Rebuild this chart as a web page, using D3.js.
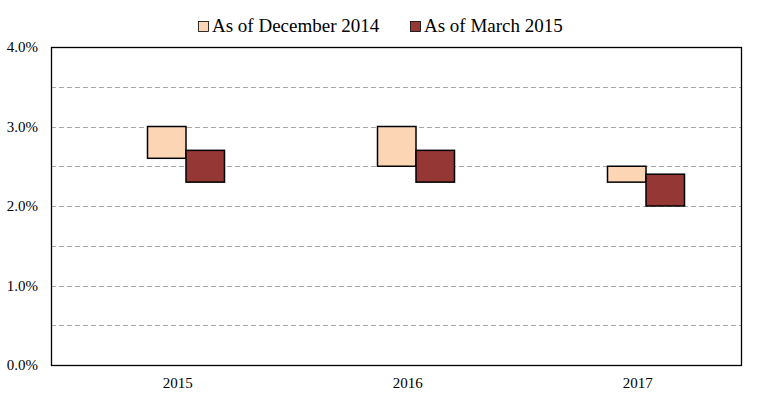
<!DOCTYPE html>
<html>
<head>
<meta charset="utf-8">
<script src="https://cdn.jsdelivr.net/npm/d3@7"></script>
<style>
  body { margin: 0; background: #fff; }
  text { font-family: "Liberation Serif", "Times New Roman", serif; fill: #000; }
</style>
</head>
<body>
<svg id="chart" width="757" height="398"></svg>
<script>
// data (forecast ranges, %)
var years = ["2015", "2016", "2017"];
var seriesNames = ["As of December 2014", "As of March 2015"];
var seriesColors = ["#fcd5b5", "#953735"];
var decLow = [2.6, 2.5, 2.3];
var decHigh = [3.0, 3.0, 2.5];
var marLow = [2.3, 2.3, 2.0];
var marHigh = [2.7, 2.7, 2.4];
var yTicks = [0, 1, 2, 3, 4];
var gridTicks = [0.5, 1, 1.5, 2, 2.5, 3, 3.5];

// plot box (note: "top" is taken by window.top, so prefix these)
var plotLeft = 51, plotRight = 741, plotTop = 47, plotBottom = 365;

var svg = d3.select("#chart");

// build rows for drawing
var bars = [];
years.forEach(function(yr, i) {
	bars.push({ year: yr, s: seriesNames[0], lo: decLow[i], hi: decHigh[i] });
	bars.push({ year: yr, s: seriesNames[1], lo: marLow[i], hi: marHigh[i] });
});

var x0 = d3.scaleBand().domain(years).range([plotLeft, plotRight]);
// bars sit a bit right of band centre, like the original
var x1 = d3.scaleBand().domain(seriesNames).range([96.5, 173.5]);
var y = d3.scaleLinear().domain([0, 4]).range([plotBottom, plotTop]);
var color = d3.scaleOrdinal().domain(seriesNames).range(seriesColors);

// dashed gridlines
svg.append("g")
	.selectAll("line")
	.data(gridTicks)
	.enter().append("line")
	.attr("x1", plotLeft).attr("x2", plotRight)
	.attr("y1", function(d) { return Math.round(y(d)) + 0.5; })
	.attr("y2", function(d) { return Math.round(y(d)) + 0.5; })
	.attr("stroke", "#a6a6a6")
	.attr("stroke-dasharray", "5,3");

// y axis labels
svg.append("g")
	.selectAll("text")
	.data(yTicks)
	.enter().append("text")
	.attr("x", 38)
	.attr("y", function(d) { return y(d); })
	.attr("dy", "0.35em")
	.attr("text-anchor", "end")
	.attr("font-size", "15px")
	.text(function(d) { return d3.format(".1f")(d) + "%"; });

// x axis labels
svg.append("g")
	.selectAll("text")
	.data(years)
	.enter().append("text")
	.attr("x", function(d) { return x0(d) + x0.bandwidth() * 0.551; })
	.attr("y", 388)
	.attr("text-anchor", "middle")
	.attr("font-size", "15px")
	.text(function(d) { return d; });

// floating bars
svg.append("g")
	.selectAll("rect")
	.data(bars)
	.enter().append("rect")
	.attr("x", function(d) { return x0(d.year) + x1(d.s); })
	.attr("width", x1.bandwidth())
	.attr("y", function(d) { return y(d.hi); })
	.attr("height", function(d) { return y(d.lo) - y(d.hi); })
	.attr("fill", function(d) { return color(d.s); })
	.attr("stroke", "#000")
	.attr("stroke-width", 1.5);

// plot frame
svg.append("rect")
	.attr("x", plotLeft + 0.5).attr("y", plotTop + 0.5)
	.attr("width", plotRight - plotLeft).attr("height", plotBottom - plotTop)
	.attr("fill", "none")
	.attr("stroke", "#000")
	.attr("stroke-width", 1.3);

// legend
var legendX = [198, 410];
var legend = svg.append("g")
	.selectAll("g")
	.data(seriesNames)
	.enter().append("g")
	.attr("transform", function(d, i) { return "translate(" + legendX[i] + ",0)"; });

legend.append("rect")
	.attr("x", 0.5).attr("y", 21.5)
	.attr("width", 10).attr("height", 10)
	.attr("fill", function(d) { return color(d); })
	.attr("stroke", "#000")
	.attr("stroke-width", 0.8);

legend.append("text")
	.attr("x", 14)
	.attr("y", 32)
	.attr("font-size", "19px")
	.text(function(d) { return d; });
</script>
</body>
</html>
